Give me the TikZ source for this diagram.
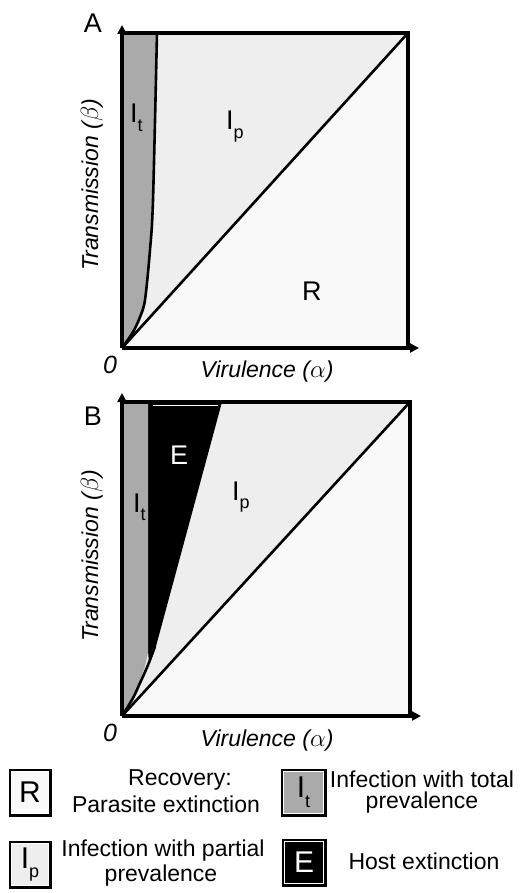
\documentclass[tikz,border=0pt]{standalone}
\usepackage{fontspec}
\setmainfont{Liberation Sans}
\usetikzlibrary{arrows.meta,calc}
\definecolor{itgray}{HTML}{AAAAAA}
\definecolor{ipgray}{HTML}{EEEEEE}
\definecolor{rwhite}{HTML}{F9F9F9}
\newcommand\lowsub[1]{\raisebox{-0.32em}{\fontsize{18}{18}\selectfont #1}}
\tikzset{
  border/.style={line width=3.2pt, line cap=rect},
  bound/.style={line width=2.6pt},
  axisline/.style={line width=3.2pt, -{Triangle[length=9pt,width=9pt]}},
  region/.style={font=\fontsize{27}{30}\selectfont, inner sep=0pt},
  panel/.style={font=\fontsize{27}{30}\selectfont, inner sep=0pt},
  axlabel/.style={font=\fontsize{23}{26}\selectfont\itshape, inner sep=0pt},
  zerolabel/.style={font=\fontsize{25}{28}\selectfont\itshape, inner sep=0pt},
  legtext/.style={font=\fontsize{23}{26}\selectfont, inner sep=0pt},
  legbox/.style={draw, line width=3pt, minimum width=40pt, minimum height=45pt, inner sep=0pt, font=\fontsize{30}{32}\selectfont},
}
\begin{document}
\begin{tikzpicture}[x=1pt,y=-1pt]
\useasboundingbox (0,0) rectangle (526,893);

% ---------- Panel A ----------
\coordinate (A0) at (122,348);
\coordinate (Atl) at (122,33);
\coordinate (Atr) at (408,33);
\coordinate (Abr) at (408,348);
\fill[rwhite] (A0) -- (Atr) -- (Abr) -- cycle;
\fill[ipgray] (A0) -- (Atl) -- (Atr) -- cycle;
\fill[itgray] (Atl) -- (157,33) -- plot[smooth] coordinates {(157,33) (153,200) (150,250) (145,300) (140,317) (133,332) (122,348)} -- cycle;
\draw[bound] plot[smooth] coordinates {(157,33) (153,200) (150,250) (145,300) (140,317) (133,332) (122,348)};
\draw[bound] (A0) -- (Atr);
\draw[border] (Atl) -- (Atr) -- (Abr);
\draw[axisline] (A0) -- (122,25);
\draw[axisline] (A0) -- (419,348);

\node[panel] (la) at (93,23) {A};
\node[region, anchor=base west] (ait) at (130,123) {I\lowsub{t}};
\node[region, anchor=base west] (aip) at (226,130) {I\lowsub{p}};
\node[region, anchor=base west] (ar) at (302,300) {R};
\node[zerolabel] (a0) at (110,365) {0};
\node[axlabel] (ax) at (267,372) {Virulence ($\alpha$)};
\node[axlabel, rotate=90] (ay) at (92,185) {Transmission ($\beta$)};

% ---------- Panel B ----------
\coordinate (B0) at (122,716);
\coordinate (Btl) at (122,402);
\coordinate (Btr) at (410,402);
\coordinate (Bbr) at (410,716);
\fill[rwhite] (B0) -- (Btr) -- (Bbr) -- cycle;
\fill[ipgray] (B0) -- (Btl) -- (Btr) -- cycle;
\fill[black] (148,402) -- (222,402) -- (155,650) -- (149,664) -- (148,650) -- cycle;
\fill[itgray] (Btl) -- (148,402) -- (148,652) -- plot[smooth] coordinates {(148,652) (145,666) (140,680) (133,697) (122,716)} -- cycle;
\draw[bound] plot[smooth] coordinates {(155,646) (150,660) (145,672) (140,683) (133,698) (122,716)};
\draw[bound] (B0) -- (Btr);
\draw[border] (Btl) -- (Btr) -- (Bbr);
\draw[white, line width=1.5pt] (153,405.5) -- (218,405.5);
\draw[axisline] (B0) -- (122,393);
\draw[axisline] (B0) -- (421,716);

\node[panel] (lb) at (93,416) {B};
\node[region, anchor=base west, text=white] (be) at (170,464) {E};
\node[region, anchor=base west] (bit) at (133,512) {I\lowsub{t}};
\node[region, anchor=base west] (bip) at (232,500) {I\lowsub{p}};
\node[zerolabel] (b0) at (110,733) {0};
\node[axlabel] (bx) at (267,741) {Virulence ($\alpha$)};
\node[axlabel, rotate=90] (by) at (92,556) {Transmission ($\beta$)};

% ---------- Legend ----------
\node[legbox, fill=rwhite] (kr) at (30,792.5) {R};
\node[legbox, fill=itgray, minimum width=43pt] (kit) at (303.5,792.5) {I\lowsub{t}};
\node[legbox, fill=ipgray] (kip) at (30,864.5) {I\lowsub{p}};
\node[legbox, fill=black, text=white, minimum width=42pt] (ke) at (304,862.5) {E};
\foreach \b in {kr,kit,kip,ke}
  \draw[white, line width=1pt] ($(\b.north west)+(2.8,2.8)$) rectangle ($(\b.south east)+(-2.8,-2.8)$);

\node[legtext] (t1) at (180,780) {Recovery:};
\node[legtext] (t2) at (166,804) {Parasite extinction};
\node[legtext] (t3) at (422,779) {Infection with total};
\node[legtext] (t4) at (422,803) {prevalence};
\node[legtext] (t5) at (163,851) {Infection with partial};
\node[legtext] (t6) at (161,876) {prevalence};
\node[legtext] (t7) at (424,861) {Host extinction};
\end{tikzpicture}
\end{document}
